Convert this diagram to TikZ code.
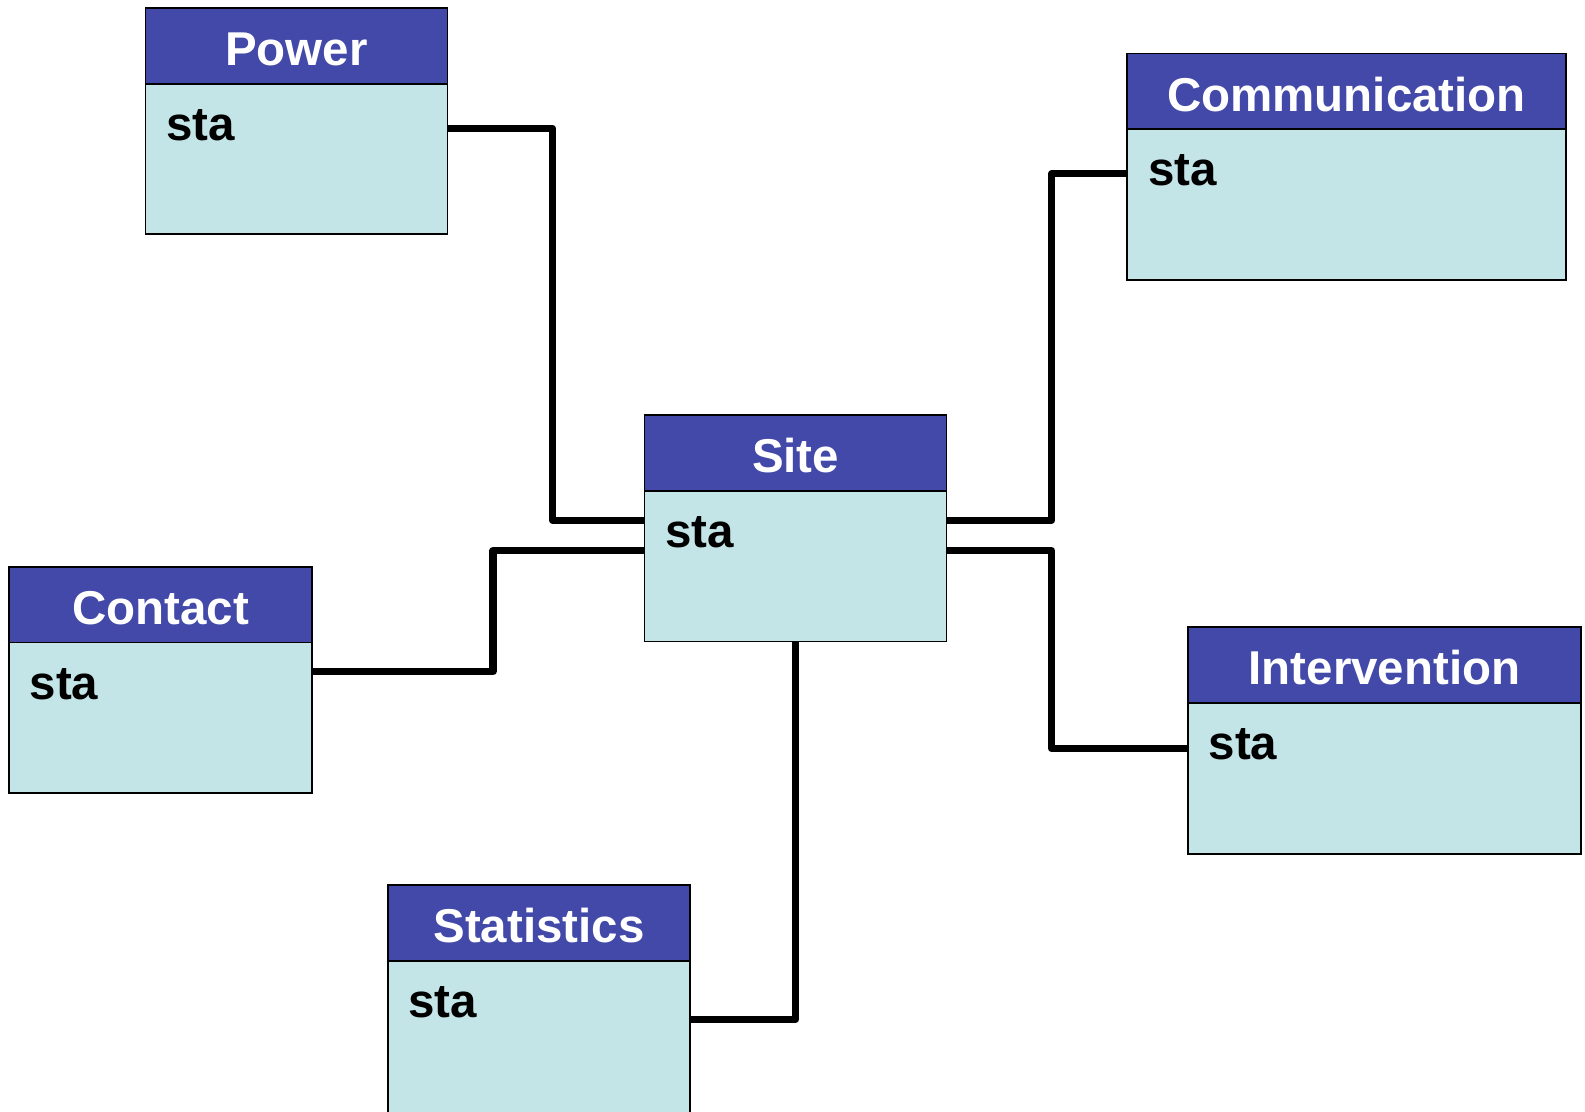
\documentclass[tikz,border=0pt]{standalone}
\usepackage{fontspec}
\setmainfont{Liberation Sans}
\usetikzlibrary{calc}
\definecolor{hdrblue}{RGB}{67,73,169}
\definecolor{bodycyan}{RGB}{196,229,231}
\tikzset{
  hdrbox/.style={draw=black, line width=0.9pt, fill=hdrblue, inner sep=0pt, outer sep=0pt, minimum height=37.5pt},
  bodybox/.style={draw=black, line width=0.9pt, fill=bodycyan, inner sep=0pt, outer sep=0pt},
  titletext/.style={text=white, font=\fontsize{23.5}{28}\selectfont\bfseries, inner sep=0pt},
  statext/.style={text=black, font=\fontsize{23.5}{28}\selectfont\bfseries, inner sep=0pt},
  conn/.style={draw=black, line width=3.5pt, line join=round}
}
\newcommand{\umlclass}[6]{%
  \node[hdrbox, minimum width=#4*0.5pt, anchor=north west] (#1-h) at (#2,#3) {};
  \node[bodybox, minimum width=#4*0.5pt, minimum height=#6*0.5pt, anchor=north west] (#1-b) at (#1-h.south west) {};
  \node[titletext, anchor=base] (#1-t) at ([yshift=-28.5pt]#1-h.north) {#5};
  \node[statext, anchor=base west] (#1-s) at ([xshift=10pt,yshift=-28pt]#1-b.north west) {sta};
}
\begin{document}
\begin{tikzpicture}[x=0.5pt, y=-0.5pt]
\useasboundingbox (0,0) rectangle (1569,1100);
\umlclass{power}{144}{8}{299}{Power}{149}
\umlclass{comm}{1116}{53}{434}{Communication}{149}
\umlclass{site}{638}{411}{299}{Site}{149}
\umlclass{contact}{9}{561}{300}{Contact}{149}
\umlclass{interv}{1176}{621}{389}{Intervention}{149}
\umlclass{stats}{384}{876}{299}{Statistics}{160}
% attachment points
\coordinate (siteL1) at ([yshift=-14.5pt]site-b.north west);
\coordinate (siteL2) at ([yshift=-29.5pt]site-b.north west);
\coordinate (siteR1) at ([yshift=-14.5pt]site-b.north east);
\coordinate (siteR2) at ([yshift=-29.5pt]site-b.north east);
\coordinate (powerR) at ([yshift=-22pt]power-b.north east);
\coordinate (contactR) at ([yshift=-14.5pt]contact-b.north east);
\coordinate (commL) at ([yshift=-22pt]comm-b.north west);
\coordinate (intervL) at ([yshift=-22.5pt]interv-b.north west);
\coordinate (statsR) at ([yshift=-29pt]stats-b.north east);
% connectors
\draw[conn] (powerR) -| ($(siteL1)+(-91,0)$) -- (siteL1);
\draw[conn] (contactR) -| ($(siteL2)+(-150,0)$) -- (siteL2);
\draw[conn] (siteR1) -- ($(siteR1)+(104,0)$) |- (commL);
\draw[conn] (siteR2) -- ($(siteR2)+(104,0)$) |- (intervL);
\draw[conn] (site-b.south) |- (statsR);
\end{tikzpicture}
\end{document}
